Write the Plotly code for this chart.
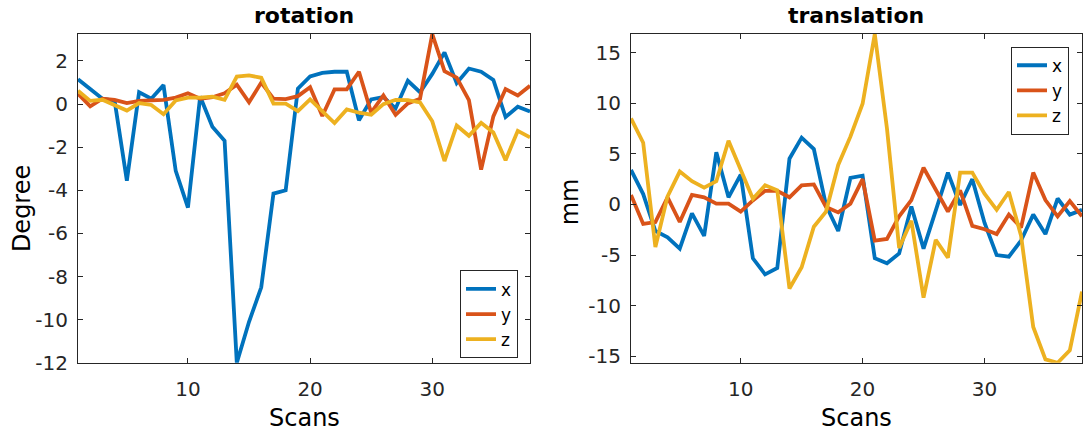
import plotly.graph_objects as go

scans = list(range(1, 39))

rot_x = [1.15, 0.72, 0.25, 0.15, -3.55, 0.55, 0.25, 0.88, -3.1, -4.8,
         0.35, -1.05, -1.7, -12.0, -10.1, -8.5, -4.15, -4.0, 0.72, 1.28,
         1.45, 1.5, 1.5, -0.75, 0.22, 0.33, -0.2, 1.08, 0.55, 1.4,
         2.4, 0.97, 1.65, 1.5, 1.12, -0.6, -0.12, -0.34]
rot_y = [0.48, -0.1, 0.25, 0.2, 0.05, 0.15, 0.17, 0.2, 0.3, 0.5,
         0.25, 0.32, 0.5, 0.9, 0.08, 1.0, 0.25, 0.23, 0.37, 0.78,
         -0.55, 0.68, 0.68, 1.5, -0.4, 0.4, -0.5, 0.03, 0.25, 3.25,
         1.53, 1.23, 0.18, -3.04, -0.57, 0.7, 0.4, 0.85]
rot_z = [0.62, 0.15, 0.2, -0.04, -0.3, 0.05, -0.04, -0.47, 0.17, 0.3,
         0.3, 0.35, 0.2, 1.28, 1.33, 1.22, 0.02, 0.02, -0.33, 0.22,
         -0.3, -0.88, -0.25, -0.4, -0.49, 0.0, 0.2, 0.18, 0.08, -0.8,
         -2.64, -0.99, -1.47, -0.87, -1.32, -2.6, -1.24, -1.54]

tr_x = [3.41, 1.03, -2.62, -3.25, -4.37, -0.87, -3.1, 5.16, 0.71, 2.94,
        -5.32, -6.9, -6.27, 4.52, 6.6, 5.48, -0.08, -2.62, 2.62, 2.85,
        -5.3, -5.8, -4.84, -0.2, -4.36, -0.7, 3.15, -0.05, 2.5, -1.8,
        -5.0, -5.16, -3.56, -1.0, -2.92, 0.59, -1.0, -0.53]
tr_y = [0.94, -1.92, -1.73, 0.71, -1.73, 0.94, 0.71, 0.08, 0.08, -0.71,
        0.4, 1.35, 1.35, 0.71, 1.89, 1.98, -0.24, -0.78, 0.08, 2.5,
        -3.56, -3.4, -1.17, 0.43, 3.63, 1.39, -0.69, 1.39, -2.12, -2.44,
        -2.92, -1.0, -2.28, 3.15, 0.43, -1.17, 0.34, -1.17]
tr_z = [8.5, 6.1, -4.2, 0.8, 3.25, 2.3, 1.67, 2.3, 6.3, 3.41,
        0.56, 1.89, 1.4, -8.3, -6.2, -2.2, -0.7, 3.9, 6.7, 9.95,
        16.83, 7.5, -4.3, -1.6, -9.2, -3.5, -5.25, 3.15, 3.15, 1.07,
        -0.53, 1.23, -3.08, -12.1, -15.3, -15.63, -14.4, -8.6]

series_names = ["x", "y", "z"]
colors = ["#0072BD", "#D95319", "#EDB120"]

x_ticks = [10, 20, 30]
rot_ticks = [2, 0, -2, -4, -6, -8, -10, -12]
tr_ticks = [15, 10, 5, 0, -5, -10, -15]

FONT = "DejaVu Sans"
AX = "#262626"

fig = go.Figure()
for name, col, vals in zip(series_names, colors, [rot_x, rot_y, rot_z]):
    fig.add_trace(go.Scatter(x=scans, y=vals, mode="lines", name=name,
                             line=dict(color=col, width=3.8),
                             xaxis="x", yaxis="y", legend="legend"))
for name, col, vals in zip(series_names, colors, [tr_x, tr_y, tr_z]):
    fig.add_trace(go.Scatter(x=scans, y=vals, mode="lines", name=name,
                             line=dict(color=col, width=3.8),
                             xaxis="x2", yaxis="y2", legend="legend2"))

rot_all = rot_x + rot_y + rot_z
tr_all = tr_x + tr_y + tr_z

axis_common = dict(showline=True, linecolor=AX, linewidth=1, mirror="ticks",
                   ticks="inside", ticklen=5, tickwidth=1, tickcolor=AX,
                   showgrid=False, zeroline=False,
                   tickfont=dict(family=FONT, size=20, color=AX))

W, H = 1088, 438
top_px, bot_px = 35, 373
ydom = [(H - bot_px) / H, (H - top_px) / H]

fig.update_layout(
    width=W, height=H,
    margin=dict(l=0, r=0, t=0, b=0),
    paper_bgcolor="white", plot_bgcolor="white",
    font=dict(family=FONT, color=AX),
    xaxis=dict(domain=[78 / W, 530 / W], range=[min(scans), max(scans)],
               tickvals=x_ticks, ticktext=[str(t) for t in x_ticks],
               anchor="y", ticklabelstandoff=8, **axis_common),
    yaxis=dict(domain=ydom, range=[min(rot_all), max(rot_all)],
               tickvals=rot_ticks, ticktext=[str(t) for t in rot_ticks],
               anchor="x", ticklabelstandoff=5, **axis_common),
    xaxis2=dict(domain=[631 / W, 1082 / W], range=[min(scans), max(scans)],
                tickvals=x_ticks, ticktext=[str(t) for t in x_ticks],
                anchor="y2", ticklabelstandoff=8, **axis_common),
    yaxis2=dict(domain=ydom, range=[min(tr_all), max(tr_all)],
                tickvals=tr_ticks, ticktext=[str(t) for t in tr_ticks],
                anchor="x2", ticklabelstandoff=5, **axis_common),
    legend=dict(x=518 / W, y=1 - 278 / H, xanchor="right", yanchor="top",
                bgcolor="white", bordercolor=AX, borderwidth=1,
                font=dict(family=FONT, size=17, color="black"),
                itemwidth=30, tracegroupgap=0),
    legend2=dict(x=1069 / W, y=1 - 48 / H, xanchor="right", yanchor="top",
                 bgcolor="white", bordercolor=AX, borderwidth=1,
                 font=dict(family=FONT, size=17, color="black"),
                 itemwidth=30, tracegroupgap=0),
    showlegend=True,
)

annos = [
    dict(text="<b>rotation</b>", x=304 / W, y=1 - 16 / H, size=22),
    dict(text="<b>translation</b>", x=856 / W, y=1 - 16 / H, size=22),
    dict(text="Scans", x=304 / W, y=1 - 430 / H, size=24),
    dict(text="Scans", x=856 / W, y=1 - 430 / H, size=24),
]
for a in annos:
    fig.add_annotation(text=a["text"], x=a["x"], y=a["y"], xref="paper", yref="paper",
                       xanchor="center", yanchor="middle", showarrow=False,
                       font=dict(family=FONT, size=a["size"], color="black"))
fig.add_annotation(text="Degree", x=22 / W, y=1 - 215 / H, xref="paper", yref="paper",
                   xanchor="center", yanchor="middle", showarrow=False, textangle=-90,
                   font=dict(family=FONT, size=24, color="black"))
fig.add_annotation(text="mm", x=570 / W, y=1 - 208 / H, xref="paper", yref="paper",
                   xanchor="center", yanchor="middle", showarrow=False, textangle=-90,
                   font=dict(family=FONT, size=24, color="black"))

fig.write_html("out.html", config={"displayModeBar": False},
               post_script="document.body.style.margin='0';")
